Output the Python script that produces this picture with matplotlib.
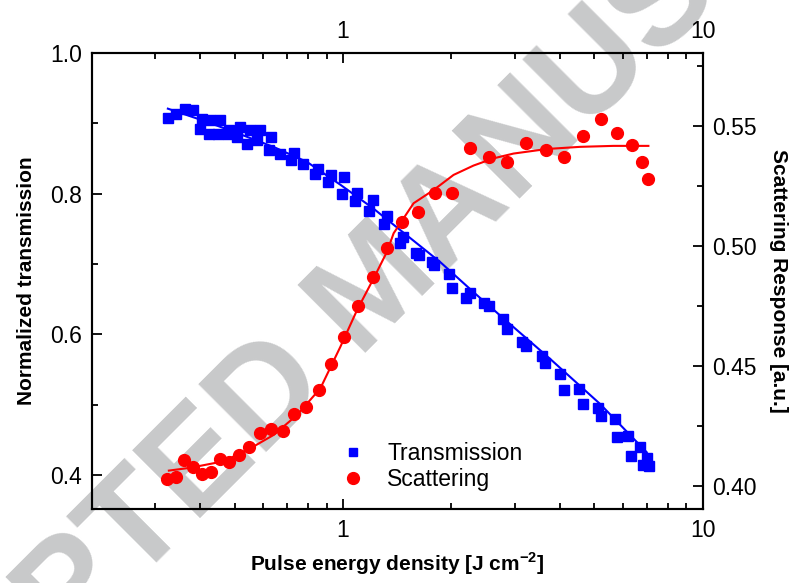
import numpy as np
import matplotlib
matplotlib.use("Agg")
import matplotlib.pyplot as plt
from matplotlib.ticker import FixedLocator, NullFormatter, FixedFormatter
from matplotlib.lines import Line2D

plt.rcParams['font.family'] = ['Liberation Sans', 'DejaVu Sans']
plt.rcParams['mathtext.fontset'] = 'custom'
plt.rcParams['mathtext.rm'] = 'Liberation Sans'
plt.rcParams['mathtext.bf'] = 'Liberation Sans:bold'

# Transmission (left axis)
trans_x = [0.3257, 0.3421, 0.3631, 0.3827, 0.3997, 0.4053, 0.4233, 0.4279, 0.4495, 0.4553,
           0.4780, 0.4832, 0.5077, 0.5159, 0.5412, 0.5517, 0.5780, 0.5881, 0.6214, 0.6322,
           0.6697, 0.7185, 0.7292, 0.7757, 0.8379, 0.8522, 0.9074, 0.9261, 0.9936, 1.0083,
           1.0819, 1.0958, 1.1832, 1.2100, 1.2967, 1.3251, 1.4364, 1.4678, 1.5978, 1.6288,
           1.7671, 1.7933, 1.9648, 2.0120, 2.1963, 2.2573, 2.4583, 2.5379, 2.7792, 2.8548,
           3.1424, 3.2300, 3.5719, 3.6475, 4.0134, 4.1259, 4.5414, 4.6592, 5.1093, 5.2187,
           5.7068, 5.7915, 6.2155, 6.3239, 6.6988, 6.8129, 7.0170, 7.1076]
trans_y = [0.9077, 0.9138, 0.9199, 0.9185, 0.8925, 0.9057, 0.8853, 0.9046, 0.8853, 0.9046,
           0.8853, 0.8906, 0.8801, 0.8949, 0.8707, 0.8910, 0.8764, 0.8910, 0.8616, 0.8807,
           0.8569, 0.8486, 0.8580, 0.8427, 0.8284, 0.8356, 0.8171, 0.8273, 0.8000, 0.8232,
           0.7900, 0.8011, 0.7748, 0.7915, 0.7563, 0.7683, 0.7303, 0.7384, 0.7154, 0.7132,
           0.7028, 0.6983, 0.6858, 0.6660, 0.6525, 0.6585, 0.6442, 0.6407, 0.6218, 0.6080,
           0.5890, 0.5842, 0.5700, 0.5592, 0.5440, 0.5216, 0.5226, 0.5013, 0.4956, 0.4846,
           0.4799, 0.4539, 0.4553, 0.4277, 0.4397, 0.4145, 0.4240, 0.4127]

# transmission fit line
trans_fit_x = [0.3257, 0.4190, 0.5185, 0.6416, 0.7943, 0.9829, 1.2162, 1.5058, 1.8637,
               2.3051, 2.7350, 3.7653, 5.183, 6.989]
trans_fit_y = [0.9209, 0.9020, 0.8844, 0.8664, 0.8451, 0.8128, 0.7787, 0.7407, 0.7028,
               0.6602, 0.6269, 0.5653, 0.5013, 0.4326]

# Scattering (right axis)
scat_x = [0.3245, 0.344, 0.3623, 0.3815, 0.4041, 0.4280, 0.4553, 0.4832, 0.5152, 0.5492,
          0.5893, 0.631, 0.6796, 0.7310, 0.7872, 0.8555, 0.9261, 1.0083, 1.1027, 1.2084,
          1.3276, 1.4614, 1.6186, 1.7989, 2.0120, 2.2471, 2.5379, 2.8548, 3.2233, 3.6644,
          4.126, 4.660, 5.228, 5.791, 6.351, 6.795, 7.062]
scat_y = [0.4029, 0.4036, 0.4110, 0.4079, 0.4050, 0.4058, 0.4111, 0.4099, 0.4129, 0.4161,
          0.4220, 0.4239, 0.4229, 0.4300, 0.4330, 0.4400, 0.4510, 0.4620, 0.4750, 0.4870,
          0.4992, 0.5101, 0.5140, 0.5220, 0.5220, 0.5410, 0.5370, 0.5349, 0.5430, 0.5400,
          0.5370, 0.5460, 0.5529, 0.5470, 0.5421, 0.5349, 0.5279]

# scattering fit line
scat_fit_x = [0.3278, 0.3765, 0.4659, 0.5528, 0.6416, 0.7452, 0.8649, 0.9829, 1.0937,
              1.2162, 1.3248, 1.3823, 1.5707, 1.7849, 2.0285, 2.3051, 2.6200, 2.9780,
              3.687, 4.562, 5.645, 7.062]
scat_fit_y = [0.4064, 0.4076, 0.4103, 0.4157, 0.4213, 0.4296, 0.4407, 0.4580, 0.4733,
              0.4865, 0.4976, 0.5053, 0.5178, 0.5233, 0.5296, 0.5335, 0.5365, 0.5385,
              0.5404, 0.5413, 0.5417, 0.5417]

blue = "#0000ff"
red = "#ff0000"

fig = plt.figure(figsize=(7.98, 5.83), dpi=100)
ax = fig.add_axes([0.1149, 0.1269, 0.7657, 0.7822])
ax.set_facecolor("none")

# watermark behind everything
fig.text(0.474, 0.503, "ACCEPTED MANUSCRIPT", fontsize=101, fontweight="bold",
         color="#c8c9ca", rotation=45, ha="center", va="center",
         rotation_mode="anchor", zorder=-1)

ax.plot(trans_fit_x, trans_fit_y, color=blue, lw=1.5, zorder=2)
ax.plot(trans_x, trans_y, "s", color=blue, ms=7, mec=blue, zorder=3)
ax.set_xscale("log")
ax.set_xlim(0.2, 10)
ax.set_ylim(0.352, 1.0)

ax2 = ax.twinx()
ax2.plot(scat_fit_x, scat_fit_y, color=red, lw=1.5, zorder=2)
ax2.plot(scat_x, scat_y, "o", color=red, ms=8.5, mec=red, zorder=3)
ax2.set_ylim(0.3904, 0.5804)
ax2.set_xlim(0.2, 10)

# ticks
ax.yaxis.set_major_locator(FixedLocator([0.4, 0.6, 0.8, 1.0]))
ax.yaxis.set_minor_locator(FixedLocator([0.5, 0.7, 0.9]))
ax.yaxis.set_major_formatter(FixedFormatter(["0.4", "0.6", "0.8", "1.0"]))
ax2.yaxis.set_major_locator(FixedLocator([0.40, 0.45, 0.50, 0.55]))
ax2.yaxis.set_minor_locator(FixedLocator([0.425, 0.475, 0.525, 0.575]))
ax2.yaxis.set_major_formatter(FixedFormatter(["0.40", "0.45", "0.50", "0.55"]))

ax.xaxis.set_major_locator(FixedLocator([1, 10]))
ax.xaxis.set_major_formatter(FixedFormatter(["1", "10"]))
ax.xaxis.set_minor_locator(FixedLocator([0.2, 0.3, 0.4, 0.5, 0.6, 0.7, 0.8, 0.9,
                                         2, 3, 4, 5, 6, 7, 8, 9]))
ax.xaxis.set_minor_formatter(NullFormatter())

for a in (ax, ax2):
    a.tick_params(which="major", direction="in", length=7, width=1.3, labelsize=16.5,
                  top=True, pad=7)
    a.tick_params(which="minor", direction="in", length=4.5, width=1.3, top=True)
    for s in a.spines.values():
        s.set_linewidth(1.5)
ax.tick_params(axis="x", labeltop=True)
ax2.tick_params(axis="x", labeltop=False, labelbottom=False)

ax.set_xlabel("Pulse energy density [J cm$^{\\mathbf{-2}}$]", fontsize=15,
              fontweight="bold", labelpad=6)
ax.set_ylabel("Normalized transmission", fontsize=15, fontweight="bold", labelpad=10)
ax2.set_ylabel("Scattering Response [a.u.]", fontsize=15, fontweight="bold",
               rotation=-90, labelpad=22)

handles = [Line2D([], [], ls="none", marker="s", color=blue, ms=6),
           Line2D([], [], ls="none", marker="o", color=red, ms=8.5)]
ax2.legend(handles, ["Transmission", "Scattering"], loc="lower left",
           bbox_to_anchor=(0.36, 0.0), frameon=False, fontsize=16.5,
           handletextpad=0.5, labelspacing=0.1, borderaxespad=0.4)

fig.savefig("out.png", dpi=100)
